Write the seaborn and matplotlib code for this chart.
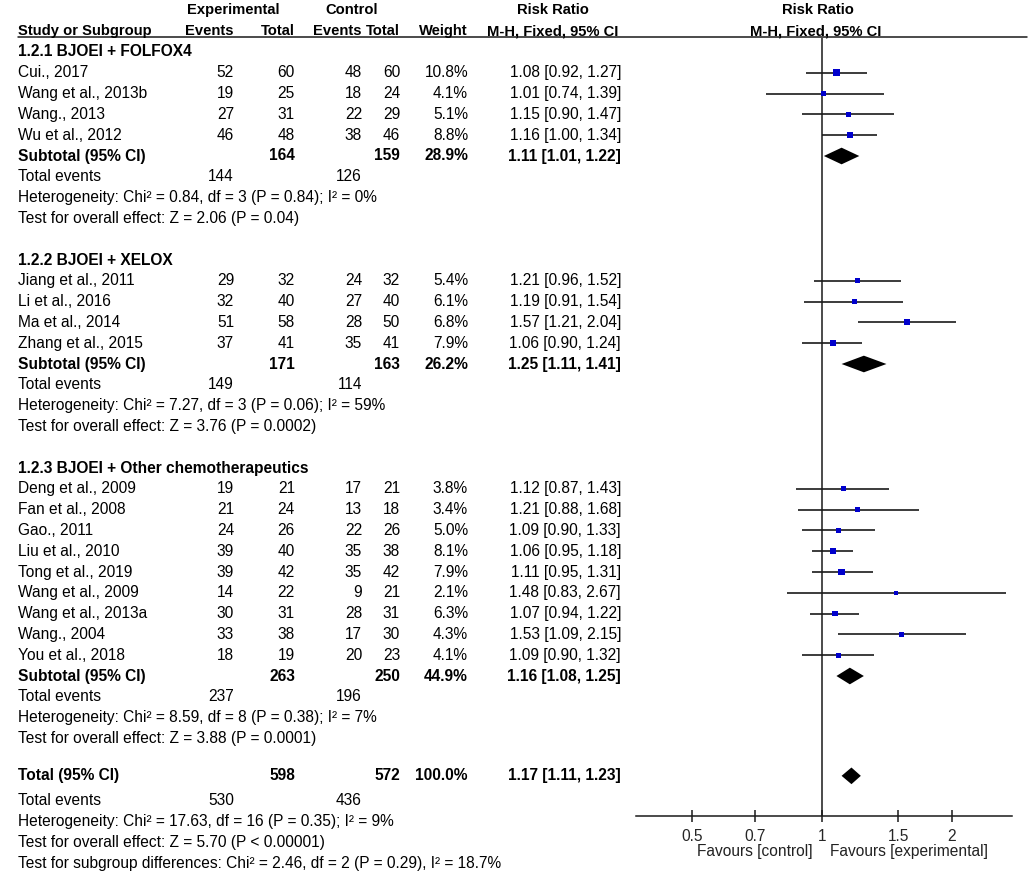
import numpy as np
import pandas as pd
import matplotlib
matplotlib.use("Agg")
import matplotlib.pyplot as plt
import matplotlib.transforms as mtransforms
import seaborn as sns

# ---------------- data ----------------
group_titles = ["1.2.1 BJOEI + FOLFOX4", "1.2.2 BJOEI + XELOX",
                "1.2.3 BJOEI + Other chemotherapeutics"]

study_names = ["Cui., 2017", "Wang et al., 2013b", "Wang., 2013", "Wu et al., 2012",
               "Jiang et al., 2011", "Li et al., 2016", "Ma et al., 2014", "Zhang et al., 2015",
               "Deng et al., 2009", "Fan et al., 2008", "Gao., 2011", "Liu et al., 2010",
               "Tong et al., 2019", "Wang et al., 2009", "Wang et al., 2013a", "Wang., 2004",
               "You et al., 2018"]
study_group = [0, 0, 0, 0, 1, 1, 1, 1, 2, 2, 2, 2, 2, 2, 2, 2, 2]
exp_events = [52, 19, 27, 46, 29, 32, 51, 37, 19, 21, 24, 39, 39, 14, 30, 33, 18]
exp_total = [60, 25, 31, 48, 32, 40, 58, 41, 21, 24, 26, 40, 42, 22, 31, 38, 19]
ctrl_events = [48, 18, 22, 38, 24, 27, 28, 35, 17, 13, 22, 35, 35, 9, 28, 17, 20]
ctrl_total = [60, 24, 29, 46, 32, 40, 50, 41, 21, 18, 26, 38, 42, 21, 31, 30, 23]
weights = [10.8, 4.1, 5.1, 8.8, 5.4, 6.1, 6.8, 7.9, 3.8, 3.4, 5.0, 8.1, 7.9, 2.1, 6.3, 4.3, 4.1]
rr = [1.08, 1.01, 1.15, 1.16, 1.21, 1.19, 1.57, 1.06, 1.12, 1.21, 1.09, 1.06, 1.11, 1.48, 1.07, 1.53, 1.09]
rr_lo = [0.92, 0.74, 0.90, 1.00, 0.96, 0.91, 1.21, 0.90, 0.87, 0.88, 0.90, 0.95, 0.95, 0.83, 0.94, 1.09, 0.90]
rr_hi = [1.27, 1.39, 1.47, 1.34, 1.52, 1.54, 2.04, 1.24, 1.43, 1.68, 1.33, 1.18, 1.31, 2.67, 1.22, 2.15, 1.32]

sub_exp_total = [164, 171, 263]
sub_ctrl_total = [159, 163, 250]
sub_exp_events = [144, 149, 237]
sub_ctrl_events = [126, 114, 196]
sub_weight = [28.9, 26.2, 44.9]
sub_rr = [1.11, 1.25, 1.16]
sub_lo = [1.01, 1.11, 1.08]
sub_hi = [1.22, 1.41, 1.25]
sub_chi = ["0.84", "7.27", "8.59"]
sub_df = [3, 3, 8]
sub_het_p = ["0.84", "0.06", "0.38"]
sub_i2 = ["0%", "59%", "7%"]
sub_z = ["2.06", "3.76", "3.88"]
sub_z_p = ["= 0.04", "= 0.0002", "= 0.0001"]

tot_exp_total, tot_ctrl_total = 598, 572
tot_exp_events, tot_ctrl_events = 530, 436
tot_weight = 100.0
tot_rr, tot_lo, tot_hi = 1.17, 1.11, 1.23
tot_het = "Heterogeneity: Chi\u00b2 = 17.63, df = 16 (P = 0.35); I\u00b2 = 9%"
tot_test = "Test for overall effect: Z = 5.70 (P < 0.00001)"
tot_subgroup = "Test for subgroup differences: Chi\u00b2 = 2.46, df = 2 (P = 0.29), I\u00b2 = 18.7%"

x_ticks = [0.5, 0.7, 1, 1.5, 2]
x_tick_labels = ["0.5", "0.7", "1", "1.5", "2"]

# ---------------- layout (pixels of a 1030 x 872 figure) ----------------
W, H = 1030, 872
ROW0, ROWH = 52, 20.8          # pixel centre of row 0, row height
FS = 11.2
FS_HEAD = 10.6
BLUE = "#0000cc"
LINEC = "#1a1a1a"

sns.set_theme(style="white")
plt.rcParams["font.family"] = ["Liberation Sans", "DejaVu Sans"]


def row_of(py):
    return (py - ROW0) / ROWH


# build the row table
rows = []   # (kind, index)
for g in range(len(group_titles)):
    rows.append(("title", g))
    for i in range(len(study_names)):
        if study_group[i] == g:
            rows.append(("study", i))
    rows.append(("subtotal", g))
    rows.append(("events", g))
    rows.append(("het", g))
    rows.append(("test", g))
    rows.append(("blank", g))
rows += [("total", 0), ("tevents", 0), ("thet", 0), ("ttest", 0), ("tsub", 0)]

fig = plt.figure(figsize=(W / 100, H / 100), dpi=100)
ax = fig.add_axes([0, 0, 1, 1])
ax.set_xlim(0, W)
ax.set_ylim(row_of(H), row_of(0))
ax.axis("off")

# column right edges
C_NAME, C_EE, C_ET, C_CE, C_CT, C_W, C_RR = 18, 234, 295, 362, 400, 468, 621


def put(x, r, s, ha="right", bold=False, fs=FS):
    ax.text(x, r, s, ha=ha, va="center", fontsize=fs,
            fontweight="bold" if bold else "normal", color="black")


# header
hb = dict(bold=True, fs=FS_HEAD)
put(233, -2, "Experimental", ha="center", **hb)
put(352, -2, "Control", ha="center", **hb)
put(553, -2, "Risk Ratio", ha="center", **hb)
put(818, -2, "Risk Ratio", ha="center", **hb)
put(C_NAME, -1, "Study or Subgroup", ha="left", **hb)
put(C_EE, -1, "Events", **hb)
put(C_ET, -1, "Total", **hb)
put(C_CE, -1, "Events", **hb)
put(C_CT, -1, "Total", **hb)
put(C_W, -1, "Weight", **hb)
put(618, -1, "M-H, Fixed, 95% CI", **hb)
put(816, -1, "M-H, Fixed, 95% CI", ha="center", **hb)
ax.plot([18, 1027], [row_of(37.5), row_of(37.5)], color=LINEC, lw=1.1)

study_rows = np.zeros(len(study_names))
diam = []   # (row, est, lo, hi)
for r, (kind, i) in enumerate(rows):
    if kind == "title":
        put(C_NAME, r, group_titles[i], ha="left", bold=True)
    elif kind == "study":
        study_rows[i] = r
        put(C_NAME, r, study_names[i], ha="left")
        put(C_EE, r, str(exp_events[i]))
        put(C_ET, r, str(exp_total[i]))
        put(C_CE, r, str(ctrl_events[i]))
        put(C_CT, r, str(ctrl_total[i]))
        put(C_W, r, f"{weights[i]:.1f}%")
        put(C_RR, r, f"{rr[i]:.2f} [{rr_lo[i]:.2f}, {rr_hi[i]:.2f}]")
    elif kind == "subtotal":
        put(C_NAME, r, "Subtotal (95% CI)", ha="left", bold=True)
        put(C_ET, r, str(sub_exp_total[i]), bold=True)
        put(C_CT, r, str(sub_ctrl_total[i]), bold=True)
        put(C_W, r, f"{sub_weight[i]:.1f}%", bold=True)
        put(C_RR, r, f"{sub_rr[i]:.2f} [{sub_lo[i]:.2f}, {sub_hi[i]:.2f}]", bold=True)
        diam.append((r, sub_rr[i], sub_lo[i], sub_hi[i]))
    elif kind == "events":
        put(C_NAME, r, "Total events", ha="left")
        put(C_EE, r, str(sub_exp_events[i]))
        put(C_CE, r, str(sub_ctrl_events[i]))
    elif kind == "het":
        put(C_NAME, r, f"Heterogeneity: Chi\u00b2 = {sub_chi[i]}, df = {sub_df[i]} "
                       f"(P = {sub_het_p[i]}); I\u00b2 = {sub_i2[i]}", ha="left")
    elif kind == "test":
        put(C_NAME, r, f"Test for overall effect: Z = {sub_z[i]} (P {sub_z_p[i]})", ha="left")
    elif kind == "total":
        rt = r - 0.2   # the overall row sits a little higher in the original
        put(C_NAME, rt, "Total (95% CI)", ha="left", bold=True)
        put(C_ET, rt, str(tot_exp_total), bold=True)
        put(C_CT, rt, str(tot_ctrl_total), bold=True)
        put(C_W, rt, f"{tot_weight:.1f}%", bold=True)
        put(C_RR, rt, f"{tot_rr:.2f} [{tot_lo:.2f}, {tot_hi:.2f}]", bold=True)
        diam.append((rt, tot_rr, tot_lo, tot_hi))
    elif kind == "tevents":
        put(C_NAME, r, "Total events", ha="left")
        put(C_EE, r, str(tot_exp_events))
        put(C_CE, r, str(tot_ctrl_events))
    elif kind == "thet":
        put(C_NAME, r, tot_het, ha="left")
    elif kind == "ttest":
        put(C_NAME, r, tot_test, ha="left")
    elif kind == "tsub":
        put(C_NAME, r, tot_subgroup, ha="left")

# ---------------- forest panel ----------------
X0, X1, X_ONE = 636, 1012, 822
PX_PER_LN = 187.6
Y_TOP, Y_AXIS = 38, 816
axf = fig.add_axes([X0 / W, 1 - Y_AXIS / H, (X1 - X0) / W, (Y_AXIS - Y_TOP) / H])
axf.set_xscale("log")
axf.set_xlim(np.exp((X0 - X_ONE) / PX_PER_LN), np.exp((X1 - X_ONE) / PX_PER_LN))
axf.set_ylim(row_of(Y_AXIS), row_of(Y_TOP))
axf.set_facecolor("none")

df = pd.DataFrame({"row": study_rows, "rr": rr, "lo": rr_lo, "hi": rr_hi, "weight": weights})
axf.axvline(1, color=LINEC, lw=1.1, zorder=1)
axf.hlines(df["row"], df["lo"], df["hi"], color=LINEC, lw=1.2, zorder=2)
sns.scatterplot(data=df, x="rr", y="row", size="weight", sizes=(8, 26), marker="s",
                color=BLUE, linewidth=0, legend=False, ax=axf, zorder=3)
for r, est, lo, hi in diam:
    axf.fill([lo, est, hi, est], [r, r - 0.4, r, r + 0.4], color="black", lw=0, zorder=4)

for s in ["top", "left", "right"]:
    axf.spines[s].set_visible(False)
axf.spines["bottom"].set_color(LINEC)
axf.spines["bottom"].set_linewidth(1.1)
axf.set_xticks(x_ticks)
axf.set_xticklabels(x_tick_labels)
axf.minorticks_off()
axf.set_yticks([])
axf.set_xlabel("")
axf.set_ylabel("")
axf.tick_params(axis="x", direction="inout", length=9, width=1.1, color=LINEC,
                labelsize=FS, pad=4.5, bottom=True)

tr = mtransforms.blended_transform_factory(axf.transData, axf.transAxes)
axf.annotate("Favours [control]", xy=(1, 0), xycoords=tr, xytext=(-6.5, -25.5),
             textcoords="offset points", ha="right", va="center", fontsize=FS, color="#222222")
axf.annotate("Favours [experimental]", xy=(1, 0), xycoords=tr, xytext=(5.5, -25.5),
             textcoords="offset points", ha="left", va="center", fontsize=FS, color="#222222")

fig.savefig("out.png", dpi=100)
